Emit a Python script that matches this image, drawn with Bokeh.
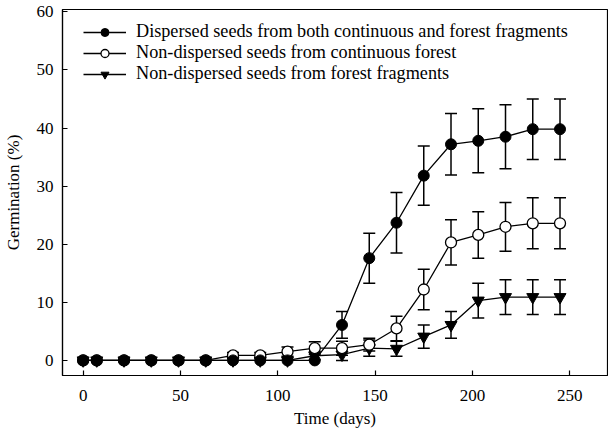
from bokeh.plotting import figure
from bokeh.models import ColumnDataSource, Whisker, TeeHead, Range1d, FixedTicker
from bokeh.embed import file_html
from bokeh.resources import INLINE

days = [0, 7, 21, 35, 49, 63, 77, 91, 105, 119, 133, 147, 161, 175, 189, 203, 217, 231, 245]

disp_mean = [0, 0, 0, 0, 0, 0, 0, 0, 0, 0, 6.1, 17.6, 23.7, 31.8, 37.2, 37.8, 38.5, 39.8, 39.8]
disp_err = [0, 0, 0, 0, 0, 0, 0, 0, 0, 0, 2.3, 4.3, 5.2, 5.1, 5.3, 5.5, 5.5, 5.2, 5.2]

cont_mean = [0, 0, 0, 0, 0, 0, 0.85, 0.85, 1.5, 2.1, 2.1, 2.7, 5.5, 12.2, 20.3, 21.6, 23.0, 23.6, 23.6]
cont_err = [0, 0, 0, 0, 0, 0, 0.5, 0.5, 0.8, 1.1, 1.2, 1.1, 2.1, 3.5, 3.9, 4.0, 4.2, 4.4, 4.4]

frag_mean = [0, 0, 0, 0, 0, 0, 0, 0, 0, 0.8, 1.0, 2.1, 2.0, 4.1, 6.1, 10.3, 10.9, 10.9, 10.9]
frag_err = [0, 0, 0, 0, 0, 0, 0, 0, 0, 0.7, 1.0, 1.4, 1.3, 2.0, 2.3, 3.0, 3.0, 3.0, 3.0]

labels = [
    "Dispersed seeds from both continuous and forest fragments",
    "Non-dispersed seeds from continuous forest",
    "Non-dispersed seeds from forest fragments",
]

x_ticks = [0, 50, 100, 150, 200, 250]
y_ticks = [0, 10, 20, 30, 40, 50, 60]

FONT = "Liberation Serif"

p = figure(width=608, height=430, output_backend="svg", toolbar_location=None,
           x_range=Range1d(-10.6, 269.4), y_range=Range1d(-2.6, 60.4),
           min_border_left=61, min_border_right=1, min_border_top=9, min_border_bottom=55)

p.xgrid.visible = False
p.ygrid.visible = False
p.outline_line_color = "black"
p.outline_line_width = 1.2
p.background_fill_color = "white"
p.border_fill_color = "white"

for ax in (p.xaxis[0], p.yaxis[0]):
    ax.major_tick_in = 5
    ax.major_tick_out = 0
    ax.minor_tick_in = 0
    ax.minor_tick_out = 0
    ax.axis_line_color = "black"
    ax.axis_line_width = 1.2
    ax.major_tick_line_color = "black"
    ax.major_tick_line_width = 1.2
    ax.major_label_text_font = FONT
    ax.major_label_text_font_size = "17px"
    ax.major_label_text_color = "black"
    ax.axis_label_text_font = FONT
    ax.axis_label_text_font_size = "17px"
    ax.axis_label_text_font_style = "normal"
    ax.axis_label_text_color = "black"

p.xaxis.ticker = FixedTicker(ticks=x_ticks)
p.yaxis.ticker = FixedTicker(ticks=y_ticks)
p.xaxis.axis_label = "Time (days)"
p.yaxis.axis_label = "Germination (%)"
p.xaxis.major_label_standoff = 14
p.yaxis.major_label_standoff = 9
p.xaxis.axis_label_standoff = 5
p.yaxis.axis_label_standoff = 11


def err_source(mean, err):
    xs, lo, hi = [], [], []
    for d, m, e in zip(days, mean, err):
        if e > 0:
            xs.append(d)
            lo.append(m - e)
            hi.append(m + e)
    return ColumnDataSource(data=dict(x=xs, lower=lo, upper=hi))


for mean, err in ((frag_mean, frag_err), (cont_mean, cont_err), (disp_mean, disp_err)):
    w = Whisker(source=err_source(mean, err), base="x", lower="lower", upper="upper",
                line_color="black", line_width=1.5,
                upper_head=TeeHead(size=12, line_color="black", line_width=1.5),
                lower_head=TeeHead(size=12, line_color="black", line_width=1.5))
    p.add_layout(w)

# fragments (triangles)
p.line(days, frag_mean, line_color="black", line_width=1.3, legend_label=labels[2])
p.scatter(days, frag_mean, marker="inverted_triangle", size=12, fill_color="black",
          line_color="black", legend_label=labels[2])
# continuous (open circles)
p.line(days, cont_mean, line_color="black", line_width=1.3, legend_label=labels[1])
p.scatter(days, cont_mean, marker="circle", size=11, fill_color="white",
          line_color="black", line_width=1.3, legend_label=labels[1])
# dispersed (filled circles)
p.line(days, disp_mean, line_color="black", line_width=1.3, legend_label=labels[0])
p.scatter(days, disp_mean, marker="circle", size=11, fill_color="black",
          line_color="black", legend_label=labels[0])

leg = p.legend[0]
leg.items = [leg.items[2], leg.items[1], leg.items[0]]
leg.location = (21, 291)
leg.margin = 0
leg.padding = 0
leg.spacing = -2
leg.border_line_alpha = 0
leg.background_fill_alpha = 0
leg.label_text_font = FONT
leg.label_text_font_size = "18.2px"
leg.label_text_color = "black"
leg.glyph_width = 43
leg.glyph_height = 20
leg.label_height = 20
leg.label_standoff = 10

open("out.html", "w").write(file_html(p, INLINE))
